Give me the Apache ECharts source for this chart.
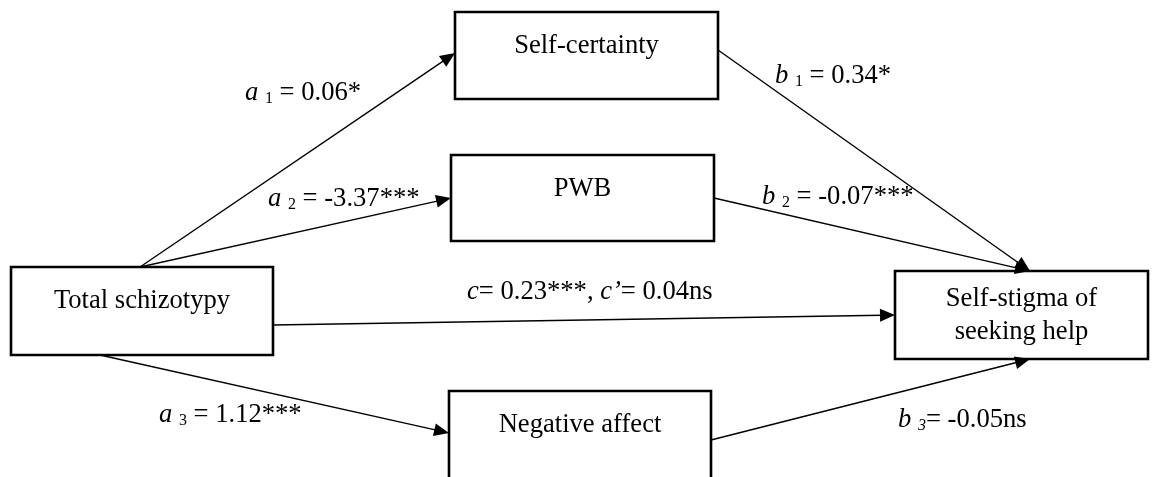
<!DOCTYPE html>
<html><head><meta charset="utf-8">
<script src="https://cdn.jsdelivr.net/npm/echarts@6/dist/echarts.min.js"></script>
<style>html,body{margin:0;padding:0;background:#fff}#c{width:1152px;height:477px}</style>
</head><body><div id="c"></div>
<script>
// ---- content ----
const variables = ['Total schizotypy', 'Self-certainty', 'PWB', 'Negative affect', 'Self-stigma of\nseeking help'];
const pathSymbols = ['a', 'a', 'a', 'b', 'b', 'b'];
const pathIndex = ['1', '2', '3', '1', '2', '3'];
const pathEquals = [' = ', ' = ', ' = ', ' = ', ' = ', '= '];
const coefficients = ['0.06*', '-3.37***', '1.12***', '0.34*', '-0.07***', '-0.05ns'];
const totalEffect = '0.23***';
const directEffect = '0.04ns';

// ---- layout (diagram coordinates, px) ----
const boxRects = [            // x1, y1, x2, y2, text centre y
  [11, 267, 273, 355, 301],
  [455, 12, 718, 99, 46],
  [451, 155, 714, 241, 189],
  [449, 391, 711, 500, 425],
  [895, 271, 1148, 359, 315.5]
];
const arrowEnds = [           // x1, y1, x2, y2
  [140, 267, 455, 53],
  [140, 267, 451, 198],
  [100, 355, 449, 433],
  [718, 50, 1030, 271],
  [714, 198, 1030, 271],
  [711, 440, 1030, 359],
  [273, 325, 895, 315]
];
const labelAnchors = [        // left x, text middle y
  [245, 93], [268, 199], [159, 415], [775, 76], [762, 197], [898, 420], [467, 292]
];

const FONT = '"Liberation Serif","Times New Roman",serif';
const FS = 26.6;
const labelTexts = coefficients.map((c, i) =>
  '{v|' + pathSymbols[i] + '} {' + (i === 5 ? 'si' : 's') + '|' + pathIndex[i] + '}' + pathEquals[i] + c);
labelTexts.push('{v|c}= ' + totalEffect + ', {v|c\u2019}= ' + directEffect);

const chart = echarts.init(document.getElementById('c'));

function boxItem(params, api) {
  const i = params.dataIndex;
  const p1 = api.coord([api.value(0), api.value(1)]);
  const p2 = api.coord([api.value(2), api.value(3)]);
  const tc = api.coord([(api.value(0) + api.value(2)) / 2, api.value(4)]);
  return {
    type: 'group', children: [
      { type: 'rect', shape: { x: p1[0], y: p1[1], width: p2[0] - p1[0], height: p2[1] - p1[1] },
        style: { fill: '#fff', stroke: '#000', lineWidth: 2.6 } },
      { type: 'text', style: { text: variables[i], x: tc[0], y: tc[1], align: 'center', verticalAlign: 'middle',
        font: FS + 'px ' + FONT, fill: '#000', lineHeight: 33 } }
    ]
  };
}

function arrowItem(params, api) {
  const p1 = api.coord([api.value(0), api.value(1)]);
  const p2 = api.coord([api.value(2), api.value(3)]);
  const dx = p2[0] - p1[0], dy = p2[1] - p1[1];
  const L = Math.hypot(dx, dy), ux = dx / L, uy = dy / L;
  const hl = 15, hw = 6.5;
  const bx = p2[0] - ux * hl, by = p2[1] - uy * hl;
  return {
    type: 'group', children: [
      { type: 'line', shape: { x1: p1[0], y1: p1[1], x2: bx + ux * 2, y2: by + uy * 2 },
        style: { stroke: '#000', lineWidth: 1.4 } },
      { type: 'polygon', shape: { points: [[p2[0], p2[1]], [bx - uy * hw, by + ux * hw], [bx + uy * hw, by - ux * hw]] },
        style: { fill: '#000' } }
    ]
  };
}

function labelItem(params, api) {
  const i = params.dataIndex;
  const p = api.coord([api.value(0), api.value(1)]);
  return {
    type: 'text',
    style: {
      text: labelTexts[i], x: p[0], y: p[1], align: 'left', verticalAlign: 'middle',
      font: FS + 'px ' + FONT, fill: '#000',
      rich: {
        v: { fontStyle: 'italic', fontSize: FS, fontFamily: FONT, fill: '#000' },
        s: { fontSize: 16, fontFamily: FONT, fill: '#000', verticalAlign: 'bottom', lineHeight: 20 },
        si: { fontSize: 16, fontStyle: 'italic', fontFamily: FONT, fill: '#000', verticalAlign: 'bottom', lineHeight: 20 }
      }
    }
  };
}

chart.setOption({
  animation: false,
  backgroundColor: '#fff',
  grid: { left: 0, right: 0, top: 0, bottom: 0 },
  xAxis: { type: 'value', min: 0, max: 1152, show: false },
  yAxis: { type: 'value', min: 0, max: 477, inverse: true, show: false },
  series: [
    { type: 'custom', clip: false, renderItem: boxItem, data: boxRects, z: 2 },
    { type: 'custom', clip: false, renderItem: arrowItem, data: arrowEnds, z: 3 },
    { type: 'custom', clip: false, renderItem: labelItem, data: labelAnchors, z: 4 }
  ]
});
</script>
</body></html>
